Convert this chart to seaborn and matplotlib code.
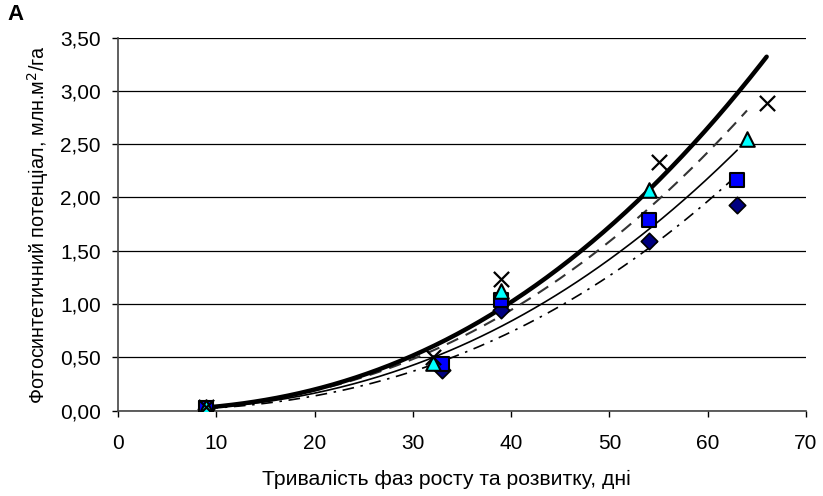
import numpy as np
import pandas as pd
import seaborn as sns
import matplotlib
import matplotlib.pyplot as plt
from matplotlib.ticker import FuncFormatter

matplotlib.use('Agg')

# Дані
x_cross = [9, 32, 39, 55, 66]
y_cross = [0.03, 0.50, 1.24, 2.33, 2.89]

x_tri = [9, 32, 39, 54, 64]
y_tri = [0.03, 0.445, 1.12, 2.07, 2.55]

x_sq = [9, 33, 39, 54, 63]
y_sq = [0.025, 0.44, 1.04, 1.79, 2.16]

x_dia = [9, 33, 39, 54, 63]
y_dia = [0.02, 0.38, 0.945, 1.59, 1.93]

x_ticks = [0, 10, 20, 30, 40, 50, 60, 70]
y_ticks = [0, 0.5, 1.0, 1.5, 2.0, 2.5, 3.0, 3.5]

sns.set_style('white')
plt.rcParams['font.family'] = ['Liberation Sans', 'DejaVu Sans']
plt.rcParams['text.color'] = 'black'
plt.rcParams['axes.labelcolor'] = 'black'
plt.rcParams['xtick.color'] = 'black'
plt.rcParams['ytick.color'] = 'black'

fig = plt.figure(figsize=(8.23, 4.96), dpi=100)
ax = fig.add_axes([0.1434, 0.172, 0.8359, 0.7522])


def power_trend(xs, ys):
    # степенева лінія тренду, як в Excel
    b, ln_a = np.polyfit(np.log(xs), np.log(ys), 1)
    xx = np.linspace(min(xs), max(xs), 200)
    return pd.DataFrame({'x': xx, 'y': np.exp(ln_a) * xx ** b})


# Лінії тренду
t = power_trend(x_dia, y_dia)
sns.lineplot(data=t, x='x', y='y', ax=ax, color='black', lw=1.2,
             linestyle=(0, (7, 4, 1.5, 4)))
t = power_trend(x_sq, y_sq)
sns.lineplot(data=t, x='x', y='y', ax=ax, color='black', lw=1.2)
t = power_trend(x_tri, y_tri)
sns.lineplot(data=t, x='x', y='y', ax=ax, color='#333333', lw=1.5,
             linestyle=(0, (6, 4)))
t = power_trend(x_cross, y_cross)
sns.lineplot(data=t, x='x', y='y', ax=ax, color='black', lw=3.2)

# Точки
sns.scatterplot(x=x_dia, y=y_dia, ax=ax, marker='D', s=70,
                color='#000080', edgecolor='black', linewidth=1.2, zorder=3)
sns.scatterplot(x=x_sq, y=y_sq, ax=ax, marker='s', s=100,
                color='#0000FF', edgecolor='black', linewidth=1.5, zorder=4)
sns.scatterplot(x=x_tri, y=y_tri, ax=ax, marker='^', s=110,
                color='#00FFFF', edgecolor='black', linewidth=1.5, zorder=5)
sns.scatterplot(x=x_cross, y=y_cross, ax=ax, marker='x', s=120,
                color='black', linewidth=1.6, zorder=6)

ax.set_xlim(0, 70)
ax.set_ylim(0, 3.5)
ax.set_xticks(x_ticks)
ax.set_yticks(y_ticks)
ax.yaxis.set_major_formatter(FuncFormatter(lambda v, p: f'{v:.2f}'.replace('.', ',')))
ax.tick_params(axis='both', labelsize=15, length=4.5, width=1, direction='out',
               color='black', bottom=True, left=True)
ax.tick_params(axis='x', pad=12)
ax.tick_params(axis='y', pad=8)
ax.grid(axis='y', color='black', lw=0.9)
ax.grid(axis='x', visible=False)
for s in ['top', 'right']:
    ax.spines[s].set_visible(False)
for s in ['left', 'bottom']:
    ax.spines[s].set_color('#444444')
    ax.spines[s].set_linewidth(1.2)

ax.set_xlabel('Тривалість фаз росту та розвитку, дні', fontsize=15.2)
ax.xaxis.set_label_coords(0.477, -0.16)
ax.set_ylabel('Фотосинтетичний потенціал, млн.м$^2$/га', fontsize=14.2)
ax.yaxis.set_label_coords(-0.097, 0.5)
fig.text(0.009, 0.992, 'A', fontsize=16, fontweight='bold', va='top')

fig.savefig('out.png', dpi=100)
